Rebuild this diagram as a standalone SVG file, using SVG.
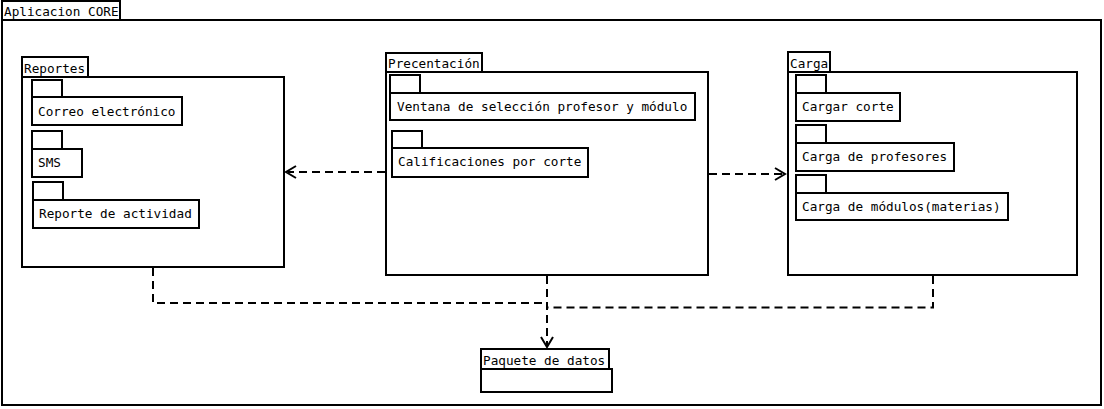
<svg xmlns="http://www.w3.org/2000/svg" width="1104" height="409" viewBox="0 0 1104 409">
<style>
.b{fill:#fff;stroke:#000;stroke-width:2}
.t{font-family:"DejaVu Sans Mono",monospace;font-size:12.7px;fill:#000}
.d{fill:none;stroke:#000;stroke-width:2;stroke-dasharray:8,5}
.a{fill:none;stroke:#000;stroke-width:2}
</style>
<rect width="1104" height="409" fill="#fff"/>
<g id="core">
<rect class="b" x="2" y="1" width="118" height="19"/>
<rect class="b" x="2" y="20" width="1099" height="385"/>
<text class="t" x="4" y="16">Aplicacion CORE</text>
</g>
<g id="reportes">
<rect class="b" x="22" y="57" width="66" height="20"/>
<rect class="b" x="22" y="77" width="262" height="190"/>
<text class="t" x="24" y="73">Reportes</text>
<rect class="b" x="32" y="80" width="30" height="17"/>
<rect class="b" x="32" y="97" width="150" height="28"/>
<text class="t" x="38" y="116">Correo electrónico</text>
<rect class="b" x="32" y="131" width="30" height="18"/>
<rect class="b" x="32" y="149" width="50" height="28"/>
<text class="t" x="38" y="167">SMS</text>
<rect class="b" x="33" y="182" width="30" height="18"/>
<rect class="b" x="33" y="200" width="166" height="28"/>
<text class="t" x="39" y="218">Reporte de actividad</text>
</g>
<g id="precentacion">
<rect class="b" x="386" y="53" width="96" height="19"/>
<rect class="b" x="386" y="72" width="322" height="203"/>
<text class="t" x="388" y="68">Precentación</text>
<rect class="b" x="390" y="75" width="30" height="18"/>
<rect class="b" x="390" y="93" width="305" height="27"/>
<text class="t" x="397" y="111">Ventana de selección profesor y módulo</text>
<rect class="b" x="392" y="131" width="30" height="17"/>
<rect class="b" x="392" y="148" width="196" height="29"/>
<text class="t" x="398" y="166">Calificaciones por corte</text>
</g>
<g id="carga">
<rect class="b" x="788" y="52" width="42" height="20"/>
<rect class="b" x="788" y="72" width="289" height="203"/>
<text class="t" x="790" y="68">Carga</text>
<rect class="b" x="796" y="75" width="30" height="18"/>
<rect class="b" x="796" y="93" width="104" height="28"/>
<text class="t" x="802" y="111">Cargar corte</text>
<rect class="b" x="796" y="125" width="30" height="18"/>
<rect class="b" x="796" y="143" width="158" height="28"/>
<text class="t" x="802" y="161">Carga de profesores</text>
<rect class="b" x="796" y="175" width="30" height="18"/>
<rect class="b" x="796" y="193" width="212" height="27"/>
<text class="t" x="802" y="211">Carga de módulos(materias)</text>
</g>
<g id="paquete">
<rect class="b" x="481" y="349" width="128" height="20"/>
<rect class="b" x="481" y="369" width="131" height="23"/>
<text class="t" x="483" y="365">Paquete de datos</text>
</g>
<g id="connectors">
<path class="d" d="M385 172H288"/>
<path class="a" d="M296 166L286 172L296 178"/>
<path class="d" d="M709 174H784"/>
<path class="a" d="M775 168L785 174L775 180"/>
<path class="d" d="M153 268V303H546"/>
<path class="d" d="M933 276V307.5H548"/>
<path class="d" d="M547 276V346"/>
<path class="a" d="M541 337L547 347L553 337"/>
</g>
</svg>
